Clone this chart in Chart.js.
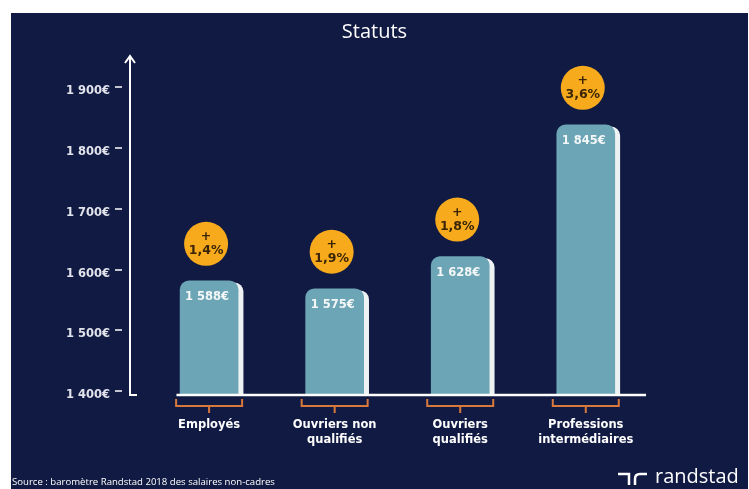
<!DOCTYPE html>
<html>
<head>
<meta charset="utf-8">
<script src="https://cdn.jsdelivr.net/npm/chart.js@4"></script>
<style>
  body { margin: 0; background: #ffffff; }
  canvas { display: block; }
</style>
</head>
<body>
<canvas id="staticChart" width="749" height="489"></canvas>
<script>
// data
const categories = [["Employés"], ["Ouvriers non", "qualifiés"], ["Ouvriers", "qualifiés"], ["Professions", "intermédiaires"]];
const salaries = [1588, 1575, 1628, 1845];
const growth = ["1,4%", "1,9%", "1,8%", "3,6%"];
const yTicks = [1400, 1500, 1600, 1700, 1800, 1900];

const NAVY = "#111a43";
const TEAL = "#6ca5b5";
const ORANGE = "#f6aa1c";
const BRACKET = "#d8793b";

function euro(v) {
    return String(v).replace(/\B(?=(\d{3})+$)/g, " ") + "€";
}

// background, axes with arrow, brackets, bubbles, footer
const decoPlugin = {
    id: "deco",
    beforeDraw(chart) {
        const ctx = chart.ctx;
        ctx.save();
        ctx.fillStyle = "#ffffff";
        ctx.fillRect(0, 0, chart.width, chart.height);
        ctx.fillStyle = NAVY;
        ctx.fillRect(11, 13, chart.width - 12, chart.height - 13);
        ctx.restore();
    },
    beforeDatasetDraw(chart) {
        const ctx = chart.ctx;
        ctx.save();
        ctx.shadowColor = "#eef2f3";
        ctx.shadowBlur = 0;
        ctx.shadowOffsetX = 5;
        ctx.shadowOffsetY = 2;
    },
    afterDatasetDraw(chart) {
        chart.ctx.restore();
    },
    afterDatasetsDraw(chart) {
        const ctx = chart.ctx;
        const area = chart.chartArea;
        const y = chart.scales.y;
        const x = chart.scales.x;
        ctx.save();

        // y axis with arrow
        ctx.strokeStyle = "#ffffff";
        ctx.lineWidth = 2;
        ctx.beginPath();
        ctx.moveTo(area.left, area.top + 2);
        ctx.lineTo(area.left, area.bottom);
        ctx.lineTo(area.left + 7, area.bottom);
        ctx.stroke();
        ctx.beginPath();
        ctx.moveTo(area.left - 5, area.top + 8);
        ctx.lineTo(area.left, area.top + 1);
        ctx.lineTo(area.left + 5, area.top + 8);
        ctx.stroke();

        // tick dashes
        ctx.lineWidth = 1.5;
        yTicks.forEach(function (t) {
            const py = Math.round(y.getPixelForValue(t)) - 4;
            ctx.beginPath();
            ctx.moveTo(area.left - 15, py);
            ctx.lineTo(area.left - 8, py);
            ctx.stroke();
        });

        // x axis line
        ctx.lineWidth = 2.5;
        ctx.beginPath();
        ctx.moveTo(x.getPixelForValue(-0.26), area.bottom);
        ctx.lineTo(x.getPixelForValue(3.48), area.bottom);
        ctx.stroke();

        const meta = chart.getDatasetMeta(0);
        meta.data.forEach(function (bar, i) {
            const cx = bar.x;

            // bracket under the category
            ctx.strokeStyle = BRACKET;
            ctx.lineWidth = 2;
            ctx.beginPath();
            ctx.moveTo(cx - 33, area.bottom + 4);
            ctx.lineTo(cx - 33, area.bottom + 11);
            ctx.lineTo(cx + 33, area.bottom + 11);
            ctx.lineTo(cx + 33, area.bottom + 4);
            ctx.moveTo(cx, area.bottom + 11);
            ctx.lineTo(cx, area.bottom + 18);
            ctx.stroke();

            // value inside bar
            ctx.fillStyle = "#f4f7f8";
            ctx.font = "bold 11.5px 'DejaVu Sans'";
            ctx.textAlign = "center";
            ctx.textBaseline = "middle";
            ctx.fillText(euro(salaries[i]), cx - 2, bar.y + 16);

            // growth bubble
            const by = bar.y - 37;
            ctx.fillStyle = ORANGE;
            ctx.beginPath();
            ctx.arc(cx - 3, by, 22, 0, Math.PI * 2);
            ctx.fill();
            ctx.fillStyle = "#3a2506";
            ctx.font = "bold 12.5px 'DejaVu Sans'";
            ctx.fillText("+", cx - 3, by - 7);
            ctx.fillText(growth[i], cx - 3, by + 7);
        });

        // footer
        ctx.fillStyle = "#ffffff";
        ctx.textAlign = "left";
        ctx.textBaseline = "alphabetic";
        ctx.font = "9.6px 'Open Sans'";
        ctx.fillText("Source : baromètre Randstad 2018 des salaires non-cadres", 12, 485);
        ctx.font = "20px 'Open Sans'";
        ctx.fillText("randstad", 655, 483);

        // logo mark
        ctx.strokeStyle = "#ffffff";
        ctx.lineWidth = 2.5;
        ctx.beginPath();
        ctx.moveTo(618, 474);
        ctx.lineTo(629, 474);
        ctx.lineTo(629, 485);
        ctx.stroke();
        ctx.beginPath();
        ctx.moveTo(635, 485);
        ctx.lineTo(635, 479);
        ctx.quadraticCurveTo(635, 474, 640, 474);
        ctx.lineTo(647, 474);
        ctx.stroke();

        ctx.restore();
    }
};

new Chart(document.getElementById("staticChart"), {
    type: "bar",
    data: {
        datasets: [{
            data: salaries.map(function (v, i) { return { x: i, y: v }; }),
            backgroundColor: TEAL,
            borderRadius: 9,
            borderSkipped: false,
            barThickness: 58
        }]
    },
    options: {
        responsive: false,
        animation: false,
        devicePixelRatio: 1,
        layout: { padding: { top: 13, left: 0, right: 0, bottom: 0 } },
        plugins: {
            legend: { display: false },
            tooltip: { enabled: false },
            title: {
                display: true,
                text: "Statuts",
                color: "#ffffff",
                font: { family: "'Open Sans'", size: 20, weight: "normal" },
                padding: { top: 7, bottom: 11 }
            }
        },
        scales: {
            x: {
                type: "linear",
                offset: false,
                min: -0.63,
                max: 4.3,
                grid: { display: false, drawTicks: false },
                border: { display: false },
                afterBuildTicks: function (axis) {
                    axis.ticks = categories.map(function (c, i) { return { value: i }; });
                },
                afterFit: function (axis) { axis.height = 94; },
                ticks: {
                    autoSkip: false,
                    maxRotation: 0,
                    padding: 23,
                    color: "#ffffff",
                    font: { family: "'DejaVu Sans'", size: 11.5, weight: "bold", lineHeight: 1.3 },
                    callback: function (v) { return categories[v]; }
                }
            },
            y: {
                min: 1400,
                max: 1960,
                grid: { display: false, drawTicks: false },
                border: { display: false },
                afterBuildTicks: function (axis) {
                    axis.ticks = yTicks.map(function (t) { return { value: t }; });
                },
                afterFit: function (axis) { axis.width = 130; },
                ticks: {
                    padding: 20,
                    color: "#e2e4ec",
                    font: { family: "'DejaVu Sans'", size: 11.5, weight: "bold" },
                    callback: function (v) { return euro(v); }
                }
            }
        }
    },
    plugins: [decoPlugin]
});
</script>
</body>
</html>
